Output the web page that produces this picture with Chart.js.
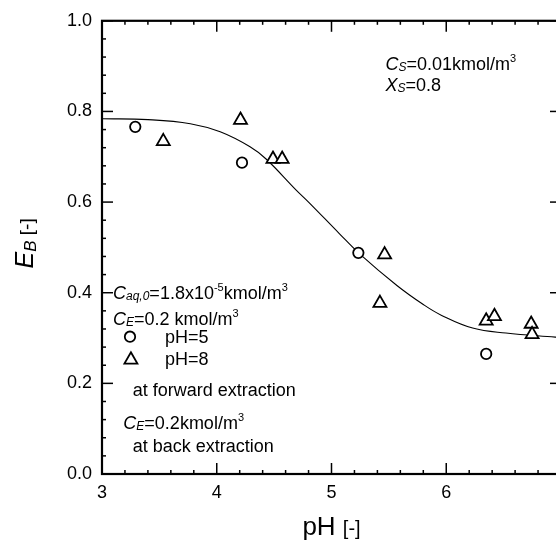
<!DOCTYPE html>
<html>
<head>
<meta charset="utf-8">
<script src="https://cdn.jsdelivr.net/npm/chart.js@4.4.0/dist/chart.umd.min.js"></script>
<style>
  html, body { margin: 0; padding: 0; background: #fff; overflow: hidden; }
  #wrap { width: 556px; height: 544px; overflow: hidden; position: relative; }
  #chart { position: absolute; left: 0; top: 0; }
</style>
</head>
<body>
<div id="wrap"><canvas id="chart" width="600" height="544"></canvas></div>
<script>
// values
const curveX = [3.0, 3.4, 3.77, 4.03, 4.29, 4.43, 4.69, 4.80, 5.07, 5.24, 5.57, 5.80, 5.96, 6.23, 6.52, 6.95, 7.0];
const curveY = [0.784, 0.782, 0.773, 0.755, 0.722, 0.695, 0.627, 0.600, 0.530, 0.487, 0.416, 0.374, 0.350, 0.322, 0.311, 0.302, 0.301];

const ph5X = [3.29, 4.22, 5.234, 6.348];
const ph5Y = [0.766, 0.687, 0.488, 0.265];

const ph8X = [3.534, 4.207, 4.49, 4.57, 5.463, 5.422, 6.348, 6.42, 6.74, 6.748];
const ph8Y = [0.734, 0.781, 0.695, 0.695, 0.484, 0.377, 0.338, 0.348, 0.331, 0.308];

const xTicks = [3, 4, 5, 6, 7];
const yTicks = [0, 0.2, 0.4, 0.6, 0.8, 1.0];

const FONT = '"Liberation Sans", Arial, Helvetica, sans-serif';
const pts = (xs, ys) => xs.map((x, i) => ({ x, y: ys[i] }));

// text runs: [text, italic?, size, baseline shift]
const notes = [
  { x: 5.47, y: 0.891, runs: [['C', 1, 18, 0], ['S', 1, 12, 1], ['=0.01kmol/m', 0, 18, 0], ['3', 0, 11, -8]] },
  { x: 5.47, y: 0.844, runs: [['X', 1, 18, 0], ['S', 1, 12, 1], ['=0.8', 0, 18, 0]] },
  { x: 3.096, y: 0.387, runs: [['C', 1, 18, 0], ['aq,0', 1, 12, 1], ['=1.8x10', 0, 18, 0], ['-5', 0, 11, -8], ['kmol/m', 0, 18, 0], ['3', 0, 11, -8]] },
  { x: 3.096, y: 0.329, runs: [['C', 1, 18, 0], ['E', 1, 12, 1], ['=0.2 kmol/m', 0, 18, 0], ['3', 0, 11, -8]] },
  { x: 3.548, y: 0.289, runs: [['pH=5', 0, 18, 0]] },
  { x: 3.548, y: 0.240, runs: [['pH=8', 0, 18, 0]] },
  { x: 3.267, y: 0.172, runs: [['at forward extraction', 0, 18, 0]] },
  { x: 3.186, y: 0.0997, runs: [['C', 1, 18, 0], ['E', 1, 12, 1], ['=0.2kmol/m', 0, 18, 0], ['3', 0, 11, -8]] },
  { x: 3.267, y: 0.0487, runs: [['at back extraction', 0, 18, 0]] }
];
const legendMarks = [
  { x: 3.244, y: 0.303, style: 'circle', r: 5.2 },
  { x: 3.252, y: 0.252, style: 'triangle', r: 7.5 }
];

function fontOf(r){ return (r[1] ? 'italic ' : '') + r[2] + 'px ' + FONT; }
function runsWidth(ctx, runs){
  let w = 0;
  runs.forEach(r => { ctx.font = fontOf(r); w += ctx.measureText(r[0]).width; });
  return w;
}
function drawRuns(ctx, x, y, runs){
  ctx.textAlign = 'left';
  ctx.textBaseline = 'alphabetic';
  runs.forEach(r => {
    ctx.font = fontOf(r);
    ctx.fillText(r[0], x, y + r[3]);
    x += ctx.measureText(r[0]).width;
  });
}

const framePlugin = {
  id: 'frame',
  afterDraw(chart){
    const { ctx, chartArea: a, scales: { x, y } } = chart;
    ctx.save();
    ctx.strokeStyle = '#000';
    ctx.fillStyle = '#000';
    const line = (x1, y1, x2, y2) => { ctx.beginPath(); ctx.moveTo(x1, y1); ctx.lineTo(x2, y2); ctx.stroke(); };

    // ticks
    ctx.lineWidth = 1.5;
    for (let i = 0; i <= 20; i++){
      const px = x.getPixelForValue(3 + i * 0.2);
      const len = i % 5 === 0 ? 11 : 4;
      line(px, a.bottom, px, a.bottom - len);
      line(px, a.top, px, a.top + len);
    }
    for (let i = 0; i <= 25; i++){
      const py = y.getPixelForValue(i * 0.04);
      const len = i % 5 === 0 ? 11 : 4;
      line(a.left, py, a.left + len, py);
      line(a.right, py, a.right - len, py);
    }
    // frame
    ctx.lineWidth = 2.2;
    ctx.strokeRect(a.left, a.top, a.right - a.left, a.bottom - a.top);

    // notes
    notes.forEach(n => drawRuns(ctx, x.getPixelForValue(n.x), y.getPixelForValue(n.y), n.runs));
    legendMarks.forEach(m => {
      ctx.lineWidth = 1.8;
      ctx.fillStyle = '#fff';
      Chart.helpers.drawPoint(ctx, { pointStyle: m.style, radius: m.r, borderWidth: 1.8, rotation: 0 },
        x.getPixelForValue(m.x), y.getPixelForValue(m.y));
      ctx.fillStyle = '#000';
    });

    // axis titles
    ctx.fillStyle = '#000';
    const xt = [['pH ', 0, 26, 0], ['[-]', 0, 20, 0]];
    drawRuns(ctx, (a.left + a.right) / 2 - runsWidth(ctx, xt) / 2, 535, xt);

    const yt = [['E', 1, 25, 0], ['B', 1, 17, 3], [' [-]', 0, 19, 0]];
    ctx.translate(33, (a.top + a.bottom) / 2 - 4);
    ctx.rotate(-Math.PI / 2);
    drawRuns(ctx, -runsWidth(ctx, yt) / 2, 0, yt);
    ctx.restore();
  }
};

new Chart(document.getElementById('chart').getContext('2d'), {
  type: 'scatter',
  data: {
    datasets: [
      { label: 'pH=5', data: pts(ph5X, ph5Y), pointStyle: 'circle', pointRadius: 5.2,
        borderColor: '#000', backgroundColor: '#fff', borderWidth: 1.8 },
      { label: 'pH=8', data: pts(ph8X, ph8Y), pointStyle: 'triangle', pointRadius: 7.5,
        borderColor: '#000', backgroundColor: '#fff', borderWidth: 1.8 },
      { label: 'model', data: pts(curveX, curveY), showLine: true, pointRadius: 0,
        borderColor: '#000', borderWidth: 1.1, tension: 0.4, fill: false }
    ]
  },
  options: {
    responsive: false,
    animation: false,
    layout: { padding: { left: 0, top: 16, right: 39, bottom: 0 } },
    plugins: { legend: { display: false }, tooltip: { enabled: false } },
    scales: {
      x: {
        type: 'linear', min: 3, max: 7,
        afterFit: s => { s.height = 70; },
        afterBuildTicks: s => { s.ticks = xTicks.map(v => ({ value: v })); },
        ticks: { color: '#000', font: { family: FONT, size: 18 }, padding: 8, maxRotation: 0, autoSkip: false },
        grid: { display: false, drawTicks: false },
        border: { display: false }
      },
      y: {
        type: 'linear', min: 0, max: 1,
        afterFit: s => { s.width = 102; },
        afterBuildTicks: s => { s.ticks = yTicks.map(v => ({ value: v })); },
        ticks: { color: '#000', font: { family: FONT, size: 18 }, padding: 10, autoSkip: false,
          callback: v => Number(v).toFixed(1) },
        grid: { display: false, drawTicks: false },
        border: { display: false }
      }
    }
  },
  plugins: [framePlugin]
});
</script>
</body>
</html>
